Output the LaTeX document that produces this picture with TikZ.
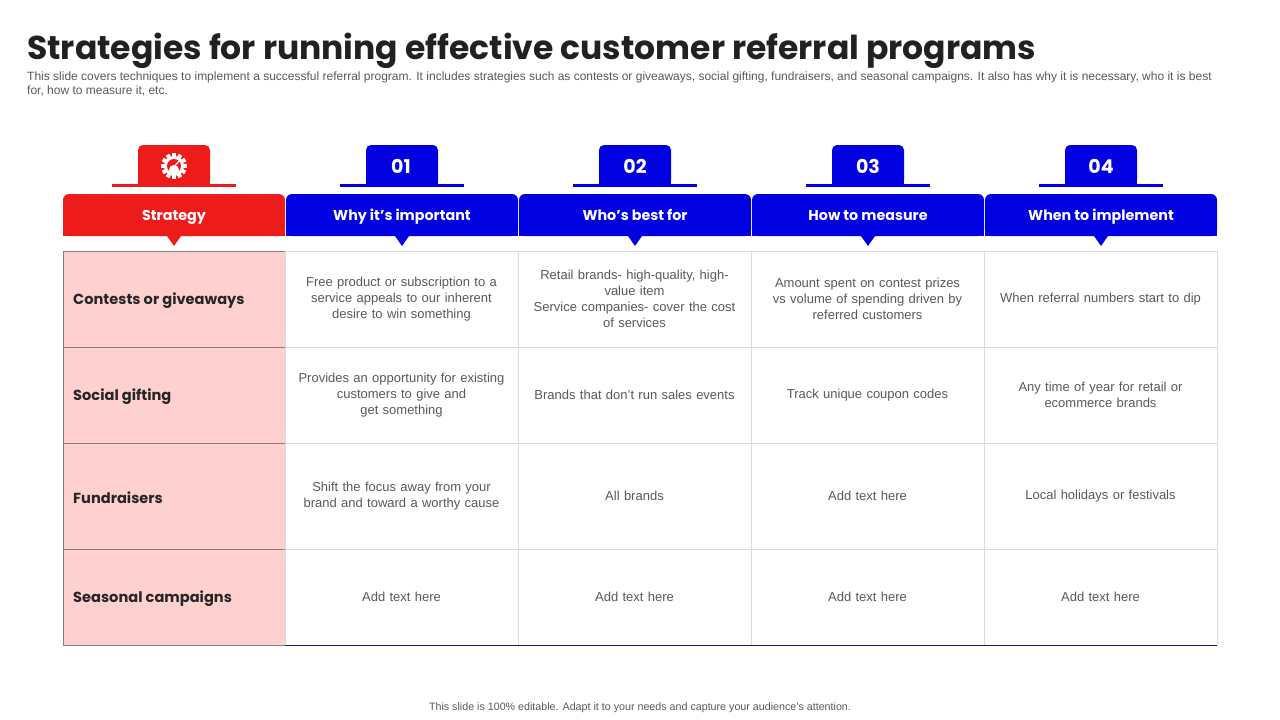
\documentclass[tikz,border=0pt]{standalone}
\usepackage{fontspec}
\setmainfont{Liberation Sans}
\newfontfamily\headfont{Poppins}
\definecolor{stratred}{HTML}{EE1B1B}
\definecolor{colblue}{HTML}{0000E1}
\definecolor{rowpink}{HTML}{FFD0D0}
\definecolor{cellgray}{HTML}{595959}
\definecolor{gridgray}{HTML}{DCDCDC}
\definecolor{edgegray}{HTML}{808080}
\definecolor{navyline}{HTML}{1C1C6B}
\tikzset{
  celltext/.style={draw=gridgray, text=cellgray, font=\fontsize{13}{16}\selectfont,
    align=center, text width=210pt, minimum width=233pt, minimum height=96pt},
  rowcell/.style={draw=edgegray, fill=rowpink, text=black!85, align=left,
    font=\headfont\bfseries\fontsize{14.6}{18}\selectfont,
    text width=202pt, inner xsep=10pt, minimum width=222pt, minimum height=96pt},
  rowlabel/.style={inner sep=0, anchor=west, text=black!85,
    font=\headfont\bfseries\fontsize{14.6}{18}\selectfont},
  headtext/.style={anchor=base, text=white, font=\headfont\bfseries\fontsize{14.3}{18}\selectfont},
  tabtext/.style={text=white, font=\headfont\bfseries\fontsize{19}{22}\selectfont}
}
\begin{document}
\begin{tikzpicture}[x=1pt,y=-1pt]
\useasboundingbox[fill=white] (0,0) rectangle (1280,720);

% title and intro
\node[anchor=base west, inner sep=0, text=black!87,
  font=\headfont\bfseries\fontsize{33}{40}\selectfont] (title) at (27,59)
  {Strategies for running effective customer referral programs};
\node[anchor=north west, inner sep=0, align=left, text=cellgray,
  font=\fontsize{12}{14}\selectfont] (intro) at (27,72)
  {This slide covers techniques to implement a successful referral program. It includes strategies such as contests or giveaways, social gifting, fundraisers, and seasonal campaigns. It also has why it is necessary, who it is best\\
   for, how to measure it, etc.};

% column heads with tabs
\foreach \i/\x/\w/\col/\lbl in {1/63/222/stratred/Strategy,
    2/286/232/colblue/Why it’s important,
    3/519/232/colblue/Who’s best for,
    4/752/232/colblue/How to measure,
    5/985/232/colblue/When to implement}{
  \pgfmathsetmacro\cx{\x+\w/2}
  \fill[\col, rounded corners=6] (\x,194) rectangle (\x+\w,236);
  \fill[\col] (\x,215) rectangle (\x+\w,236);
  \fill[\col] (\cx-7,236) -- (\cx+7,236) -- (\cx,246) -- cycle;
  \node[headtext] (head\i) at (\cx,220) {\lbl};
  \fill[\col, rounded corners=5] (\cx-36,145) rectangle (\cx+36,185);
  \fill[\col] (\cx-36,165) rectangle (\cx+36,185);
  \draw[\col, line width=3pt] (\cx-62,185) -- (\cx+62,185);
}
\foreach \i/\cx in {2/401,3/635,4/868,5/1101}{
  \pgfmathtruncatemacro\n{\i-1}
  \node[tabtext] (tab\i) at (\cx,166) {0\n};
}

% gear icon on the first tab
\node[circle, fill=white, minimum size=20pt, inner sep=0] (gear) at (174,166) {};
\foreach \a in {0,30,...,330}
  \fill[white, shift={(174,166)}, rotate=\a] (-2,8) rectangle (2,13);
\fill[stratred] (174,166) circle (7);
\fill[white] (174,170) circle (5);
\draw[white, line width=1.2pt] (174,167) -- (179,161);

% strategy column
\node[rowcell] (r1) at (174,299) {};
\node[rowcell] (r2) at (174,395) {};
\node[rowcell, minimum height=106pt] (r3) at (174,496) {};
\node[rowcell] (r4) at (174,597) {};
\node[rowlabel] (l1) at (73,301) {Contests  or giveaways};
\node[rowlabel] (l2) at (73,397) {Social gifting};
\node[rowlabel] (l3) at (73,498) {Fundraisers};
\node[rowlabel] (l4) at (73,599) {Seasonal campaigns};

% row 1
\node[celltext] (c12) at (401.5,299) {Free product or subscription to a\\service appeals to our inherent\\desire to win something};
\node[celltext] (c13) at (634.5,299) {Retail brands- high-quality, high-\\value item\\Service companies- cover the cost\\of services};
\node[celltext] (c14) at (867.5,299) {Amount spent on contest prizes\\vs volume of spending driven by\\referred customers};
\node[celltext] (c15) at (1100.5,299) {When referral numbers start to dip};
% row 2
\node[celltext] (c22) at (401.5,395) {Provides an opportunity for existing\\customers to give and\\get something};
\node[celltext] (c23) at (634.5,395) {Brands that don’t run sales events};
\node[celltext] (c24) at (867.5,395) {Track unique coupon codes};
\node[celltext] (c25) at (1100.5,395) {Any time of year for retail or\\ecommerce brands};
% row 3
\node[celltext, minimum height=106pt] (c32) at (401.5,496) {Shift the focus away from your\\brand and toward a worthy cause};
\node[celltext, minimum height=106pt] (c33) at (634.5,496) {All brands};
\node[celltext, minimum height=106pt] (c34) at (867.5,496) {Add text here};
\node[celltext, minimum height=106pt] (c35) at (1100.5,496) {Local holidays or festivals};
% row 4
\node[celltext] (c42) at (401.5,597) {Add text here};
\node[celltext] (c43) at (634.5,597) {Add text here};
\node[celltext] (c44) at (867.5,597) {Add text here};
\node[celltext] (c45) at (1100.5,597) {Add text here};

\draw[navyline, line width=1pt] (c42.south west) -- (c45.south east);

% footer
\node[text=cellgray, font=\fontsize{10.7}{12}\selectfont] (footer) at (640,708)
  {This slide is 100\% editable. Adapt it to your needs and capture your audience's attention.};
\end{tikzpicture}
\end{document}
